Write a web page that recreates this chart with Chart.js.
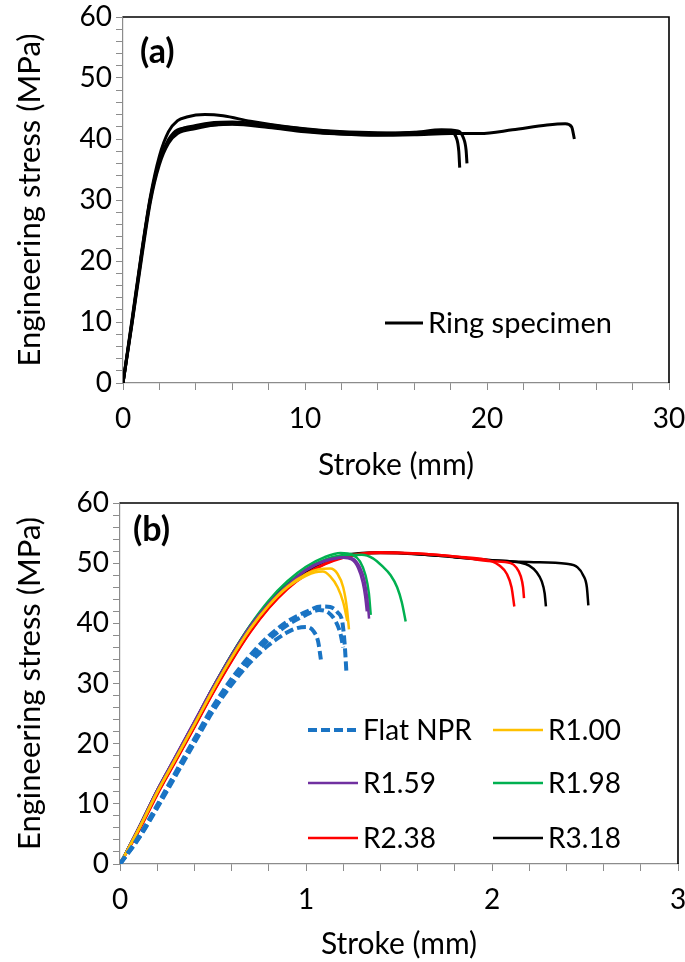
<!DOCTYPE html>
<html><head><meta charset="utf-8">
<script src="https://cdn.jsdelivr.net/npm/chart.js@4/dist/chart.umd.min.js"></script>
<style>
html,body{margin:0;padding:0;background:#fff;}
#wa{position:absolute;left:0;top:0;width:685px;height:480px}
#wb{position:absolute;left:0;top:480px;width:685px;height:482px}
</style>
</head><body>
<div id="wa"><canvas id="ca" width="685" height="480"></canvas></div>
<div id="wb"><canvas id="cb" width="685" height="482"></canvas></div>
<script>
// ---------- Panel (a): ring specimens ----------
const ring1_x = [0, 0.5, 1.0, 1.5, 2.0, 2.5, 3.0, 3.5, 4.5, 5.5, 7, 9, 11, 13, 15, 17, 17.9, 18.3, 18.45, 18.5];
const ring1_y = [0, 10.5, 21, 30.5, 37.2, 41.2, 43.0, 43.6, 44.0, 43.8, 42.9, 42.0, 41.4, 41.1, 41.0, 41.2, 41.3, 40.3, 38.0, 35.3];
const ring2_x = [0, 0.5, 1.0, 1.5, 2.0, 2.5, 3.0, 4, 5, 6, 8, 10, 12, 14, 16, 17.5, 18.4, 18.7, 18.85, 18.9];
const ring2_y = [0, 10, 20.5, 30, 36.3, 39.6, 41.3, 42.2, 42.7, 42.8, 42.3, 41.6, 41.1, 40.9, 41.1, 41.5, 41.3, 40.2, 38.2, 36.0];
const ring3_x = [0, 0.5, 1.0, 1.5, 2.0, 2.5, 3.0, 4, 5, 6, 8, 10, 12, 14, 16, 18, 19.6, 21.4, 23.3, 24.3, 24.65, 24.8];
const ring3_y = [0, 9.8, 20, 29.6, 35.8, 39.3, 40.9, 41.7, 42.3, 42.5, 42.1, 41.3, 40.8, 40.6, 40.7, 40.9, 40.9, 41.5, 42.3, 42.5, 42.0, 40.0];
const ring4_x = [0, 0.5, 1.0, 1.5, 2.0, 2.5, 3.0, 4, 5, 6, 8, 10, 12, 14, 16, 18.0];
const ring4_y = [0, 10.2, 20.8, 30.2, 36.5, 39.9, 41.5, 42.0, 42.3, 42.4, 41.9, 41.2, 40.8, 40.7, 40.9, 41.2];

// ---------- Panel (b): NPR specimens ----------
const flatA_x = [0, 0.1, 0.2, 0.3, 0.4, 0.5, 0.6, 0.7, 0.8, 0.9, 1.0, 1.08, 1.13, 1.17, 1.195, 1.208, 1.218];
const flatA_y = [0, 4.5, 9.8, 15.3, 20.8, 26.2, 30.8, 34.7, 37.9, 40.3, 41.9, 42.8, 42.7, 41.8, 40.3, 36.5, 31.5];
const flatB_x = [0, 0.1, 0.2, 0.3, 0.4, 0.5, 0.6, 0.7, 0.8, 0.9, 1.0, 1.07, 1.12, 1.16, 1.185, 1.2];
const flatB_y = [0, 4.3, 9.5, 15.0, 20.4, 25.8, 30.3, 34.2, 37.3, 39.7, 41.4, 42.2, 41.8, 40.3, 38.3, 36.0];
const flatC_x = [0, 0.1, 0.2, 0.3, 0.4, 0.5, 0.6, 0.7, 0.8, 0.9, 0.95, 1.0, 1.04, 1.065, 1.08];
const flatC_y = [0, 4.2, 9.3, 14.7, 20.1, 25.4, 29.8, 33.5, 36.4, 38.5, 39.2, 39.4, 38.7, 37.0, 34.0];

const r100a_x = [0, 0.1, 0.2, 0.3, 0.4, 0.5, 0.6, 0.7, 0.8, 0.9, 1.0, 1.07, 1.13, 1.17, 1.2, 1.22, 1.231];
const r100a_y = [0, 5.75, 11.95, 17.55, 23.2, 28.95, 34.3, 39.1, 43.0, 46.1, 48.2, 49.0, 49.1, 48.2, 46.0, 42.5, 39.0];
const r100b_x = [0, 0.1, 0.2, 0.3, 0.4, 0.5, 0.6, 0.7, 0.8, 0.9, 1.0, 1.05, 1.09, 1.13, 1.17, 1.2, 1.222];
const r100b_y = [0, 5.75, 11.95, 17.55, 23.2, 28.95, 34.3, 39.1, 43.0, 46.0, 47.9, 48.5, 48.6, 47.8, 46.0, 43.5, 40.4];

const r159a_x = [0, 0.1, 0.2, 0.3, 0.4, 0.5, 0.6, 0.7, 0.8, 0.9, 1.0, 1.1, 1.2, 1.25, 1.29, 1.315, 1.33, 1.339];
const r159a_y = [0, 6.0, 12.3, 18.0, 23.7, 29.4, 34.7, 39.5, 43.3, 46.3, 48.9, 50.4, 51.0, 50.8, 49.3, 47.0, 44.0, 40.8];
const r159b_x = [0, 0.1, 0.2, 0.3, 0.4, 0.5, 0.6, 0.7, 0.8, 0.9, 1.0, 1.1, 1.2, 1.245, 1.28, 1.305, 1.318, 1.327];
const r159b_y = [0, 5.9, 12.2, 17.9, 23.6, 29.3, 34.6, 39.4, 43.2, 46.2, 48.8, 50.3, 50.9, 50.6, 49.2, 46.8, 44.5, 42.0];

const r198a_x = [0, 0.1, 0.2, 0.3, 0.4, 0.5, 0.6, 0.7, 0.8, 0.9, 1.0, 1.1, 1.186, 1.25, 1.29, 1.32, 1.338, 1.348];
const r198a_y = [0, 5.9, 12.2, 17.9, 23.6, 29.4, 34.8, 39.7, 43.8, 47.0, 49.4, 51.0, 51.7, 51.4, 50.3, 48.0, 45.0, 41.4];
const r198b_x = [0, 0.1, 0.2, 0.3, 0.4, 0.5, 0.6, 0.7, 0.8, 0.9, 1.0, 1.1, 1.2, 1.3, 1.36, 1.41, 1.455, 1.49, 1.515, 1.536];
const r198b_y = [0, 5.8, 12.0, 17.6, 23.2, 29.0, 34.3, 39.2, 43.2, 46.4, 49.0, 50.6, 51.3, 51.4, 50.8, 49.5, 48.0, 46.0, 43.5, 40.3];

const r238a_x = [0, 0.1, 0.2, 0.3, 0.4, 0.5, 0.6, 0.7, 0.8, 0.9, 1.0, 1.1, 1.2, 1.3, 1.4, 1.6, 1.8, 2.0, 2.04, 2.08, 2.105, 2.12];
const r238a_y = [0, 5.5, 11.6, 17.2, 22.8, 28.5, 33.8, 38.6, 42.6, 45.8, 48.2, 49.9, 51.0, 51.6, 51.8, 51.6, 51.1, 50.3, 49.6, 48.2, 46.0, 42.8];
const r238b_x = [0, 0.1, 0.2, 0.3, 0.4, 0.5, 0.6, 0.7, 0.8, 0.9, 1.0, 1.1, 1.2, 1.3, 1.4, 1.6, 1.8, 2.0, 2.1, 2.13, 2.155, 2.167, 2.172];
const r238b_y = [0, 5.4, 11.5, 17.1, 22.7, 28.4, 33.7, 38.5, 42.5, 45.7, 48.1, 49.8, 50.9, 51.5, 51.7, 51.6, 51.1, 50.3, 50.0, 49.3, 47.8, 46.0, 44.2];

const r318a_x = [0, 0.1, 0.2, 0.3, 0.4, 0.5, 0.6, 0.7, 0.8, 0.9, 1.0, 1.1, 1.2, 1.3, 1.4, 1.6, 1.8, 2.0, 2.2, 2.4, 2.46, 2.49, 2.51, 2.518];
const r318a_y = [0, 6.0, 12.3, 17.9, 23.6, 29.4, 34.8, 39.6, 43.5, 46.5, 48.8, 50.4, 51.3, 51.7, 51.8, 51.5, 51.0, 50.5, 50.2, 49.9, 49.3, 48.0, 46.0, 43.0];
const r318b_x = [0, 0.1, 0.2, 0.3, 0.4, 0.5, 0.6, 0.7, 0.8, 0.9, 1.0, 1.1, 1.2, 1.3, 1.4, 1.6, 1.8, 2.0, 2.15, 2.2, 2.24, 2.267, 2.283, 2.29];
const r318b_y = [0, 5.9, 12.1, 17.7, 23.4, 29.2, 34.6, 39.4, 43.3, 46.3, 48.6, 50.2, 51.1, 51.6, 51.7, 51.5, 51.0, 50.5, 50.1, 49.6, 48.5, 47.0, 45.0, 42.8];

// ---------- axis ticks ----------
const yTicksMajor = [0, 10, 20, 30, 40, 50, 60];
const xTicksA = [0, 10, 20, 30];
const xTicksB = [0, 1, 2, 3];

const FONT = 'Lato';

function pts(xs, ys) { return xs.map((x, i) => ({ x: x, y: ys[i] })); }

function ds(label, xs, ys, color, width, dash, legend) {
  return {
    label: label, data: pts(xs, ys), borderColor: color, backgroundColor: color,
    borderWidth: width, borderDash: dash || [], pointRadius: 0, fill: false,
    cubicInterpolationMode: 'monotone', showInLegendBox: legend
  };
}

function isMajor(v, list) { return list.some(m => Math.abs(m - v) < 1e-6); }

function scales(xMax, xStep, xMajors, yWidth, xHeight, xTitlePadBottom) {
  const grid = { display: true, drawOnChartArea: false, drawTicks: true, tickLength: 7, color: '#8c8c8c', lineWidth: 1 };
  const border = { display: true, color: '#8c8c8c', width: 1.2 };
  return {
    x: {
      type: 'linear', min: 0, max: xMax,
      grid: grid, border: border,
      ticks: {
        stepSize: xStep, autoSkip: false, maxRotation: 0, color: '#000', padding: 12,
        font: { family: FONT, size: 28 },
        callback: v => isMajor(v, xMajors) ? String(Math.round(v)) : ''
      },
      title: { display: true, text: 'Stroke (mm)', color: '#000', font: { family: FONT, size: 30, lineHeight: 1 }, padding: { top: 0, bottom: xTitlePadBottom } },
      afterFit: s => { s.height = xHeight; s.paddingLeft = 0; s.paddingRight = 0; }
    },
    y: {
      type: 'linear', min: 0, max: 60,
      grid: grid, border: border,
      ticks: {
        stepSize: 2, autoSkip: false, color: '#000', padding: 4,
        font: { family: FONT, size: 28 },
        callback: v => isMajor(v, yTicksMajor) ? String(Math.round(v)) : ''
      },
      title: { display: true, text: 'Engineering stress (MPa)', color: '#000', font: { family: FONT, size: 31, lineHeight: 1 }, padding: { top: 14, bottom: 0 } },
      afterFit: s => { s.width = yWidth; s.paddingTop = 0; s.paddingBottom = 0; }
    }
  };
}

const decor = {
  id: 'decor',
  afterDraw(chart, args, opts) {
    const ctx = chart.ctx, a = chart.chartArea;
    ctx.save();
    ctx.strokeStyle = '#000'; ctx.lineWidth = 1.6;
    ctx.beginPath();
    ctx.moveTo(a.left, a.top); ctx.lineTo(a.right, a.top); ctx.lineTo(a.right, a.bottom);
    ctx.stroke();
    ctx.fillStyle = '#000';
    ctx.font = 'bold 34px ' + FONT;
    ctx.textBaseline = 'middle'; ctx.textAlign = 'left';
    ctx.fillText(opts.panel, a.left + opts.panelDx, a.top + opts.panelDy);
    ctx.font = opts.legendSize + 'px ' + FONT;
    const items = chart.data.datasets.filter(d => d.showInLegendBox);
    items.forEach((d, i) => {
      const p = opts.slots[i];
      ctx.strokeStyle = d.borderColor; ctx.lineWidth = d.borderWidth;
      ctx.setLineDash(d.borderDash || []);
      ctx.beginPath(); ctx.moveTo(p[0], p[2]); ctx.lineTo(p[1], p[2]); ctx.stroke();
      ctx.setLineDash([]);
      ctx.fillStyle = '#000';
      ctx.fillText(d.label, p[1] + 5, p[2] + 1);
    });
    ctx.restore();
  }
};

Chart.defaults.font.family = FONT;
Chart.defaults.animation = false;

// Chart (a)
new Chart(document.getElementById('ca'), {
  type: 'line',
  data: {
    datasets: [
      ds('Ring specimen', ring1_x, ring1_y, '#000', 3, null, true),
      ds('Ring specimen', ring2_x, ring2_y, '#000', 3, null, false),
      ds('Ring specimen', ring3_x, ring3_y, '#000', 3, null, false),
      ds('Ring specimen', ring4_x, ring4_y, '#000', 3, null, false)
    ]
  },
  options: {
    responsive: false, devicePixelRatio: 1, animation: false,
    layout: { padding: { left: 0, top: 17, right: 16, bottom: 0 } },
    plugins: {
      legend: { display: false }, tooltip: { enabled: false },
      decor: { panel: '(a)', panelDx: 17, panelDy: 35, legendSize: 29, slots: [[385, 423, 323]] }
    },
    scales: scales(30, 2, xTicksA, 123, 97, 0)
  },
  plugins: [decor]
});

// Chart (b)
const BLUE = '#1a74c4', YEL = '#ffc000', PUR = '#7030a0', GRN = '#00b050', RED = '#ff0000', BLK = '#000000';
new Chart(document.getElementById('cb'), {
  type: 'line',
  data: {
    datasets: [
      ds('Flat NPR', flatA_x, flatA_y, BLUE, 4, [9, 4], true),
      ds('Flat NPR', flatB_x, flatB_y, BLUE, 4, [9, 4], false),
      ds('Flat NPR', flatC_x, flatC_y, BLUE, 4, [9, 4], false),
      ds('R1.00', r100a_x, r100a_y, YEL, 2.5, null, true),
      ds('R1.00', r100b_x, r100b_y, YEL, 2.5, null, false),
      ds('R1.59', r159a_x, r159a_y, PUR, 2.5, null, true),
      ds('R1.59', r159b_x, r159b_y, PUR, 2.5, null, false),
      ds('R1.98', r198a_x, r198a_y, GRN, 2.5, null, true),
      ds('R1.98', r198b_x, r198b_y, GRN, 2.5, null, false),
      ds('R2.38', r238a_x, r238a_y, RED, 2.5, null, true),
      ds('R2.38', r238b_x, r238b_y, RED, 2.5, null, false),
      ds('R3.18', r318a_x, r318a_y, BLK, 2.5, null, true),
      ds('R3.18', r318b_x, r318b_y, BLK, 2.5, null, false)
    ]
  },
  options: {
    responsive: false, devicePixelRatio: 1, animation: false,
    layout: { padding: { left: 0, top: 23, right: 7, bottom: 0 } },
    plugins: {
      legend: { display: false }, tooltip: { enabled: false },
      decor: {
        panel: '(b)', panelDx: 13, panelDy: 27, legendSize: 28,
        slots: [[308, 358, 250], [493, 543, 250], [308, 358, 303], [493, 543, 303], [308, 358, 358], [493, 543, 358]]
      }
    },
    scales: scales(3, 0.2, xTicksB, 120, 98, 3)
  },
  plugins: [decor]
});
</script>
</body></html>
